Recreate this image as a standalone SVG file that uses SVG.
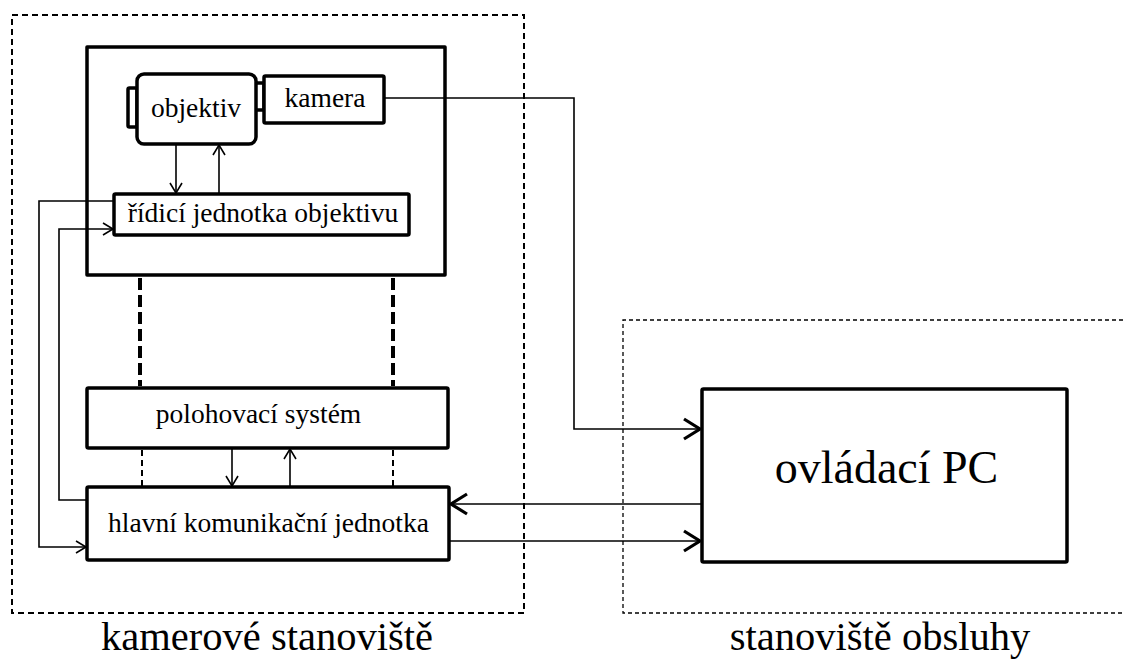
<svg xmlns="http://www.w3.org/2000/svg" width="1124" height="659" viewBox="0 0 1124 659">
  <style>
    .box { fill: #fff; stroke: #000; stroke-width: 3.5; stroke-linejoin: round; }
    .zone { fill: none; stroke: #000; }
    text { fill: #000; text-anchor: middle; font-family: 'Liberation Serif', serif; }
    .lbl { font-size: 27.5px; }
    .wire { fill: none; stroke: #000; stroke-width: 1.6; }
    .wire-in { marker-end: url(#arrowThin); }
    .bus { fill: none; stroke: #000; stroke-width: 1.6; marker-end: url(#arrowThick); }
    .mech { fill: none; stroke: #000; stroke-width: 4; stroke-dasharray: 12 5; }
    .mech-thin { fill: none; stroke: #000; stroke-width: 2; stroke-dasharray: 6 4; }
  </style>
  <defs>
    <marker id="arrowThin" markerUnits="userSpaceOnUse" markerWidth="14" markerHeight="16" refX="11" refY="7" orient="auto">
      <path d="M1,1 L11,7 L1,13" fill="none" stroke="#000" stroke-width="1.6"/>
    </marker>
    <marker id="arrowThick" markerUnits="userSpaceOnUse" markerWidth="22" markerHeight="26" refX="18" refY="12" orient="auto">
      <path d="M2,2 L18,12 L2,22" fill="none" stroke="#000" stroke-width="3.2"/>
    </marker>
  </defs>

  <!-- site zones -->
  <g id="zone-camera">
    <rect class="zone" x="12" y="15" width="512" height="598" stroke-width="2" stroke-dasharray="6 4"/>
    <text x="267" y="650" font-size="40.5">kamerové stanoviště</text>
  </g>
  <g id="zone-operator">
    <path class="zone" d="M1130,320 H623 V613 H1130" stroke-width="1.3" stroke-dasharray="4 3"/>
    <text x="880" y="650" font-size="40.5">stanoviště obsluhy</text>
  </g>

  <!-- camera housing -->
  <g id="housing">
    <rect class="box" x="87" y="47" width="358" height="228" stroke-width="4"/>
  </g>

  <g id="objektiv">
    <rect class="box" x="128" y="88" width="9" height="39" rx="1.5"/>
    <rect class="box" x="255" y="83" width="9" height="27" rx="1"/>
    <rect class="box" x="137" y="74" width="119" height="70" rx="7"/>
    <text class="lbl" x="196" y="117">objektiv</text>
  </g>

  <g id="kamera">
    <rect class="box" x="264" y="76" width="120" height="47" rx="1.5"/>
    <text class="lbl" x="325" y="107">kamera</text>
  </g>

  <g id="ridici">
    <rect class="box" x="114" y="194" width="295" height="41" rx="1.5"/>
    <text class="lbl" x="263" y="222">řídicí jednotka objektivu</text>
  </g>

  <g id="polohovaci">
    <rect class="box" x="87" y="388" width="361" height="60" rx="1.5"/>
    <text class="lbl" x="258.5" y="423">polohovací systém</text>
  </g>

  <g id="hlavni">
    <rect class="box" x="87" y="487" width="362" height="73" rx="1.5"/>
    <text class="lbl" x="268.5" y="532">hlavní komunikační jednotka</text>
  </g>

  <g id="pc">
    <rect class="box" x="702" y="389" width="365" height="173" rx="1.5"/>
    <text x="886.5" y="483" font-size="46">ovládací PC</text>
  </g>

  <!-- connectors -->
  <g id="connectors">
    <!-- lens and lens controller -->
    <path class="wire wire-in" d="M176,144 V193"/>
    <path class="wire wire-in" d="M219,194 V145"/>
    <!-- lens controller and main unit, looped round the left side -->
    <path class="wire wire-in" d="M114,201 H39 V547 H86"/>
    <path class="wire wire-in" d="M87,500 H59 V229 H113"/>
    <!-- positioning system and main unit -->
    <path class="wire wire-in" d="M232,448 V486"/>
    <path class="wire wire-in" d="M290,487 V449"/>
    <!-- mechanical couplings -->
    <path class="mech" d="M140,278 V386"/>
    <path class="mech" d="M393,278 V386"/>
    <path class="mech-thin" d="M142,450 V486"/>
    <path class="mech-thin" d="M393,450 V486"/>
    <!-- video from camera to PC -->
    <path class="bus" d="M384,98 H574 V429 H700"/>
    <!-- PC and main unit -->
    <path class="bus" d="M702,504 H451"/>
    <path class="bus" d="M449,541 H700"/>
  </g>
</svg>
